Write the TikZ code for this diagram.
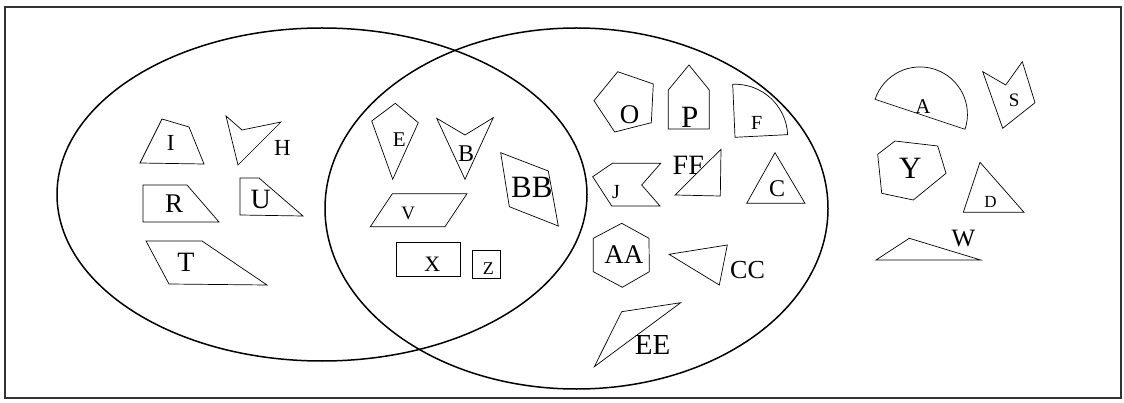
\documentclass[tikz,border=0pt]{standalone}
\usepackage{fontspec}
\setmainfont{Liberation Serif}
\usepackage{tikz}

\tikzset{
  piece/.style={draw, line width=0.7pt},
  venn/.style={draw, line width=1.5pt},
  frame/.style={draw, line width=1.2pt, black!80},
  tag/.style={inner sep=0pt, font=\fontsize{#1}{#1}\selectfont}
}

\begin{document}
\begin{tikzpicture}[x=1pt,y=-1pt]
  \useasboundingbox (0,0) rectangle (1124,403);
  \draw[frame] (5,7) rectangle (1121,398);

  \draw[venn] (322,194.5) ellipse [x radius=265, y radius=166.5];
  \draw[venn] (576.5,208.5) ellipse [x radius=251.5, y radius=180.5];

  \draw[piece] (140,163) -- (162,119) -- (189,127) -- (204,164) -- cycle;
  \draw[piece] (226,116) -- (242,130) -- (281,122) -- (238,165) -- cycle;
  \draw[piece] (143,185) -- (187,185) -- (219,222) -- (143,222) -- cycle;
  \draw[piece] (240,178) -- (259,178) -- (303,216) -- (240,215) -- cycle;
  \draw[piece] (146,241) -- (202,241) -- (267,285) -- (169,284) -- cycle;

  \draw[piece] (371.7,121) -- (395.3,103.3) -- (418.3,122.7) -- (392.7,179.3) -- cycle;
  \draw[piece] (436.7,118.3) -- (465,135) -- (493.3,117.7) -- (465,179.3) -- cycle;
  \draw[piece] (500.7,152.7) -- (548.3,171) -- (558.3,226) -- (509.3,206.7) -- cycle;
  \draw[piece] (392.3,193.7) -- (467,193.7) -- (445,226.7) -- (370.3,226.7) -- cycle;
  \draw[piece] (396.7,242.3) rectangle (460.7,276.7);
  \draw[piece] (472,250) rectangle (500.7,278.3);

  \draw[piece] (594,100.7) -- (617.7,71.7) -- (653.3,84) -- (651.3,122.7) -- (614.7,132) -- cycle;
  \draw[piece] (668.3,90) -- (689,65) -- (709.3,90) -- (709.3,129) -- (668.3,129) -- cycle;
  \draw[piece] (735,137.3) -- (732.7,84.3) arc[start angle=-92.5, end angle=-2.5, radius=52.7] -- cycle;
  \draw[piece] (592.7,176.7) -- (612.3,163.3) -- (660.7,163.3) -- (641.7,185) -- (660,206) -- (611.7,206) -- cycle;
  \draw[piece] (675,195) -- (721,149.3) -- (720.3,196) -- cycle;
  \draw[piece] (775,152.7) -- (805,203.3) -- (746.7,203.3) -- cycle;
  \draw[piece] (621.7,223.3) -- (649,238.3) -- (649.3,271.7) -- (622.3,287.3) -- (593.3,271.7) -- (593.3,238.3) -- cycle;
  \draw[piece] (669,254.3) -- (727.3,245) -- (719.3,285) -- cycle;
  \draw[piece] (594.3,366.7) -- (621.7,311.7) -- (680.7,302.7) -- cycle;

  \draw[piece] (875,99.3) -- (965,129.3) arc[start angle=18.4, end angle=-161.6, radius=47.4];
  \draw[piece] (982.7,71.7) -- (1005.7,85) -- (1022.3,61.7) -- (1035,102.7) -- (1002.7,128.3) -- cycle;
  \draw[piece] (895,141) -- (937.7,146) -- (946,173.3) -- (913.3,200) -- (881.7,193.3) -- (877.7,154.3) -- cycle;
  \draw[piece] (980,162.3) -- (1024,212.3) -- (963.3,212.3) -- cycle;
  \draw[piece] (876,260) -- (909.3,238.3) -- (980.7,260) -- cycle;

  \node[tag=23] (I) at (170.8,142.8) {I};
  \node[tag=23] (H) at (282.5,147.8) {H};
  \node[tag=27] (R) at (174.2,203.8) {R};
  \node[tag=28] (U) at (260.8,199.2) {U};
  \node[tag=28] (T) at (185.8,262.5) {T};

  \node[tag=21] (E) at (399.3,139.7) {E};
  \node[tag=24] (B) at (466.2,153.3) {B};
  \node[tag=31] (BB) at (531.8,187.7) {BB};
  \node[tag=19] (V) at (408.3,213.3) {V};
  \node[tag=22] (X) at (432.2,264.2) {X};
  \node[tag=18] (Z) at (488.3,268.8) {Z};

  \node[tag=27] (O) at (629.7,114.5) {O};
  \node[tag=31] (P) at (689.7,117.5) {P};
  \node[tag=20] (F) at (756.7,123) {F};
  \node[tag=20] (J) at (616,191.7) {J};
  \node[tag=28] (FF) at (688.3,165.8) {FF};
  \node[tag=24] (C) at (777,188.3) {C};
  \node[tag=27] (AA) at (623.8,254.2) {AA};
  \node[tag=26] (CC) at (747.5,270.3) {CC};
  \node[tag=29] (EE) at (652.5,345) {EE};

  \node[tag=21] (A) at (923,106.3) {A};
  \node[tag=19] (S) at (1014.2,100) {S};
  \node[tag=31] (Y) at (910.3,168.8) {Y};
  \node[tag=17] (D) at (990.5,201.7) {D};
  \node[tag=25] (W) at (963.3,238.3) {W};
\end{tikzpicture}
\end{document}
